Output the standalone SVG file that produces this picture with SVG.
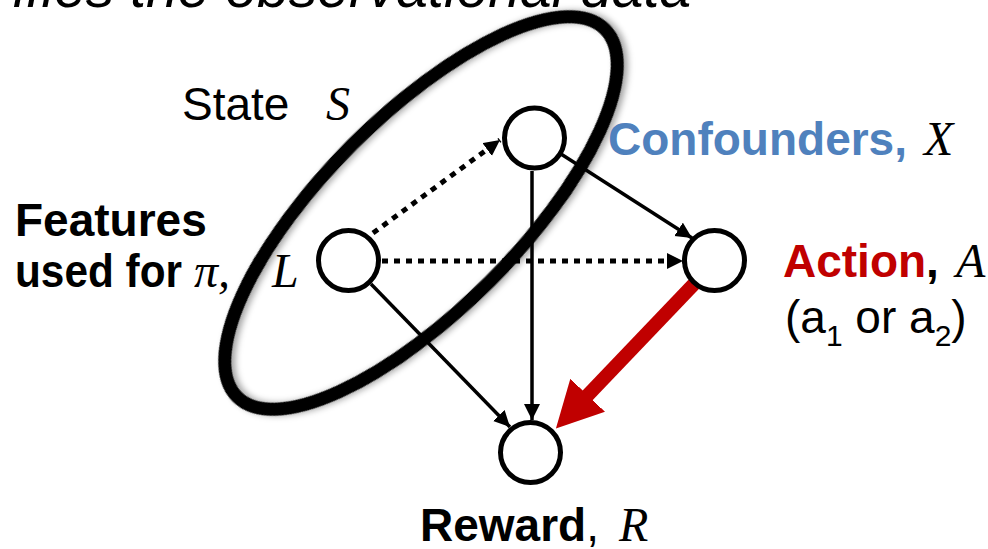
<svg xmlns="http://www.w3.org/2000/svg" width="988" height="549" viewBox="0 0 988 549">
<style>
.sans{font-family:"Liberation Sans",Arial,sans-serif;font-size:46px;fill:#000}
.b{font-weight:bold}
.math{font-family:"Liberation Serif","Times New Roman",serif;font-style:italic;font-weight:normal;font-size:48px;fill:#000}
.node{fill:#fff;stroke:#000;stroke-width:5}
.solid{stroke:#000;stroke-width:3.5;fill:none}
.dot{stroke:#000;stroke-width:5;stroke-dasharray:6 6;fill:none}
</style>
<defs>
<marker id="ah" markerUnits="userSpaceOnUse" markerWidth="17" markerHeight="17" refX="16" refY="8" orient="auto">
<path d="M0,0 L16,8 L0,16 z" fill="#000"/>
</marker>
<marker id="ahr" markerUnits="userSpaceOnUse" markerWidth="47" markerHeight="50" refX="1" refY="24" orient="auto">
<path d="M0,0 L46,24 L0,48 z" fill="#C00000"/>
</marker>
<filter id="sh" x="-20%" y="-20%" width="140%" height="140%">
<feDropShadow dx="3" dy="3" stdDeviation="3" flood-color="#000" flood-opacity="0.35"/>
</filter>
</defs>

<text class="sans" x="13" y="7" style="font-style:italic;font-size:57px">ifies the observational data</text>

<g id="connectors">
<line class="dot" x1="373" y1="233" x2="500" y2="140" marker-end="url(#ah)"/>
<line class="dot" x1="382" y1="261" x2="683" y2="261" marker-end="url(#ah)"/>
<line class="solid" x1="532" y1="171" x2="532" y2="420" marker-end="url(#ah)"/>
<line class="solid" x1="561" y1="154" x2="692" y2="238" marker-end="url(#ah)"/>
<line class="solid" x1="371" y1="284" x2="510" y2="427" marker-end="url(#ah)"/>
<line x1="694" y1="284" x2="587" y2="396" stroke="#C00000" stroke-width="14" marker-end="url(#ahr)"/>
</g>

<g id="node-X"><circle class="node" cx="534.5" cy="138" r="30"/></g>
<g id="node-L"><circle class="node" cx="348.5" cy="260.5" r="30"/></g>
<g id="node-A"><circle class="node" cx="714.5" cy="260.5" r="30"/></g>
<g id="node-R"><circle class="node" cx="530.5" cy="452.5" r="30"/></g>

<g id="label-L">
<text class="sans b" x="15" y="236">Features</text>
<text class="sans b" x="15" y="287" textLength="167" lengthAdjust="spacingAndGlyphs">used for</text>
<text class="math" x="194" y="287">π,</text>
<text class="math" x="272" y="287">L</text>
</g>

<g id="state">
<ellipse cx="0" cy="0" rx="260" ry="97" transform="translate(421 213) rotate(-45)" fill="none" stroke="#000" stroke-width="13" filter="url(#sh)"/>
<text class="sans" x="182" y="120">State</text>
<text class="math" x="326" y="120">S</text>
</g>

<g id="label-X">
<text class="sans b" x="608" y="155" style="fill:#4F81BD">Confounders,</text>
<text class="math" x="924" y="155">X</text>
</g>

<g id="label-A">
<text class="sans b" x="783" y="277"><tspan style="fill:#C00000">Action</tspan>,</text>
<text class="math" x="956" y="277">A</text>
<text class="sans" x="785" y="333">(a<tspan dy="13" style="font-size:30px">1</tspan><tspan dy="-13"> or a</tspan><tspan dy="13" style="font-size:30px">2</tspan><tspan dy="-13">)</tspan></text>
</g>

<g id="label-R">
<text class="sans" x="420" y="541"><tspan class="b">Reward</tspan>,</text>
<text class="math" x="619" y="541">R</text>
</g>
</svg>
